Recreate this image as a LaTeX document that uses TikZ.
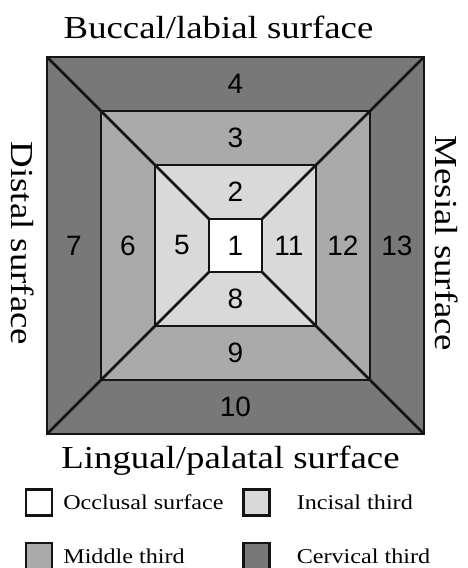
\documentclass[tikz,border=0pt]{standalone}
\usepackage{fontspec}
\usepackage{tikz}
\usetikzlibrary{positioning}
\newfontfamily\surfacefont{Liberation Serif}[FakeStretch=1.15]
\newfontfamily\numberfont{Liberation Sans}
\definecolor{CervicalGray}{RGB}{120, 120, 120}
\definecolor{MiddleGray}{RGB}{170, 170, 170}
\definecolor{IncisalGray}{RGB}{217, 217, 217}
\definecolor{EdgeBlack}{RGB}{20, 20, 20}

\begin{document}
\begin{tikzpicture}[
    x=1pt, y=1pt,
    zone/.style={draw=EdgeBlack, line width=2pt, inner sep=0pt, outer sep=0pt},
    split/.style={draw=EdgeBlack, line width=2.6pt},
    num/.style={font=\numberfont\fontsize{28}{28}\selectfont, inner sep=0pt},
    surface/.style={font=\surfacefont\fontsize{32}{32}\selectfont, inner sep=0pt},
    key/.style={draw=EdgeBlack, line width=2.2pt, minimum size=26pt, inner sep=0pt},
    keytext/.style={font=\surfacefont\fontsize{21}{21}\selectfont, inner sep=0pt}
  ]
  \useasboundingbox (-235.5,-322.5) rectangle (232.5,245.5);
  % nested zones
  \node[zone, fill=CervicalGray, minimum size=377pt] (cervical) at (0,0) {};
  \node[zone, fill=MiddleGray, minimum size=269pt] (middle) at (0,0) {};
  \node[zone, fill=IncisalGray, minimum size=161pt] (incisal) at (0,0) {};
  \node[zone, fill=white, minimum size=53pt] (occlusal) at (0,0) {};
  % corner splits
  \foreach \c in {north west, north east, south west, south east}
    \draw[split] (cervical.\c) -- (occlusal.\c);
  % zone numbers
  \foreach \lbl/\px/\py in {4/0/161.5, 3/0/107.5, 2/0/53.5, 1/0/0, 8/0/-53.5,
      9/0/-107.5, 10/0/-161.5, 7/-161.5/0, 6/-107.5/0, 5/-53.5/0,
      11/53.5/0, 12/107.5/0, 13/161.5/0}
    \node[num] (n\lbl) at (\px,\py) {\lbl};
  % surfaces
  \node[surface, anchor=base] (buccal) at (-17,206.5) {Buccal/labial surface};
  \node[surface, anchor=base] (lingual) at (-5,-222.5) {Lingual/palatal surface};
  \node[surface, rotate=-90] (distal) at (-212.5,2) {Distal surface};
  \node[surface, rotate=-90] (mesial) at (211.5,2) {Mesial surface};
  % legend
  \node[key, fill=white] (keyocc) at (-196.5,-257) {};
  \node[keytext, right=10pt of keyocc] (txtocc) {Occlusal surface};
  \node[key, fill=IncisalGray] (keyinc) at (21,-257) {};
  \node[keytext, right=26pt of keyinc] (txtinc) {Incisal third};
  \node[key, fill=MiddleGray] (keymid) at (-196.5,-310.5) {};
  \node[keytext, right=10pt of keymid] (txtmid) {Middle third};
  \node[key, fill=CervicalGray] (keycer) at (21,-310.5) {};
  \node[keytext, right=26pt of keycer] (txtcer) {Cervical third};
\end{tikzpicture}
\end{document}
